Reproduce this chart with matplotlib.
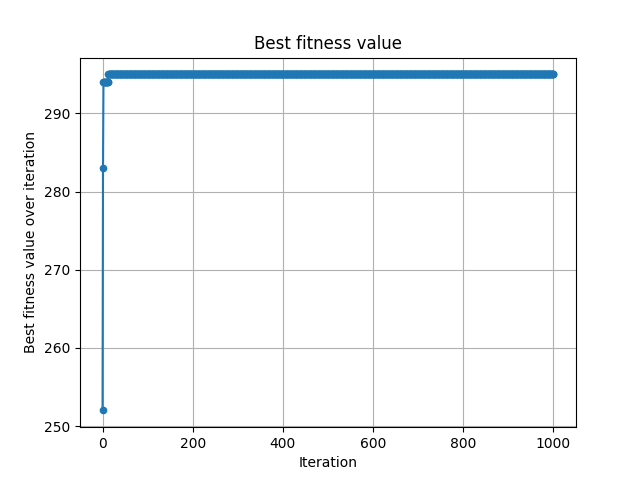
import matplotlib
matplotlib.use("Agg")
import matplotlib.pyplot as plt

# best fitness per iteration
early_values = [252, 283, 294, 294, 294, 294, 294, 294, 294, 294, 294, 294, 294]
plateau_value = 295
n_iterations = 1001

best_fitness = early_values + [plateau_value] * (n_iterations - len(early_values))
iterations = list(range(n_iterations))

fig, ax = plt.subplots(figsize=(6.4, 4.8), dpi=100)
ax.plot(iterations, best_fitness, "o-", markersize=4.5)
ax.set_title("Best fitness value")
ax.set_xlabel("Iteration")
ax.set_ylabel("Best fitness value over iteration")
ax.grid(True)
fig.savefig("out.png")
